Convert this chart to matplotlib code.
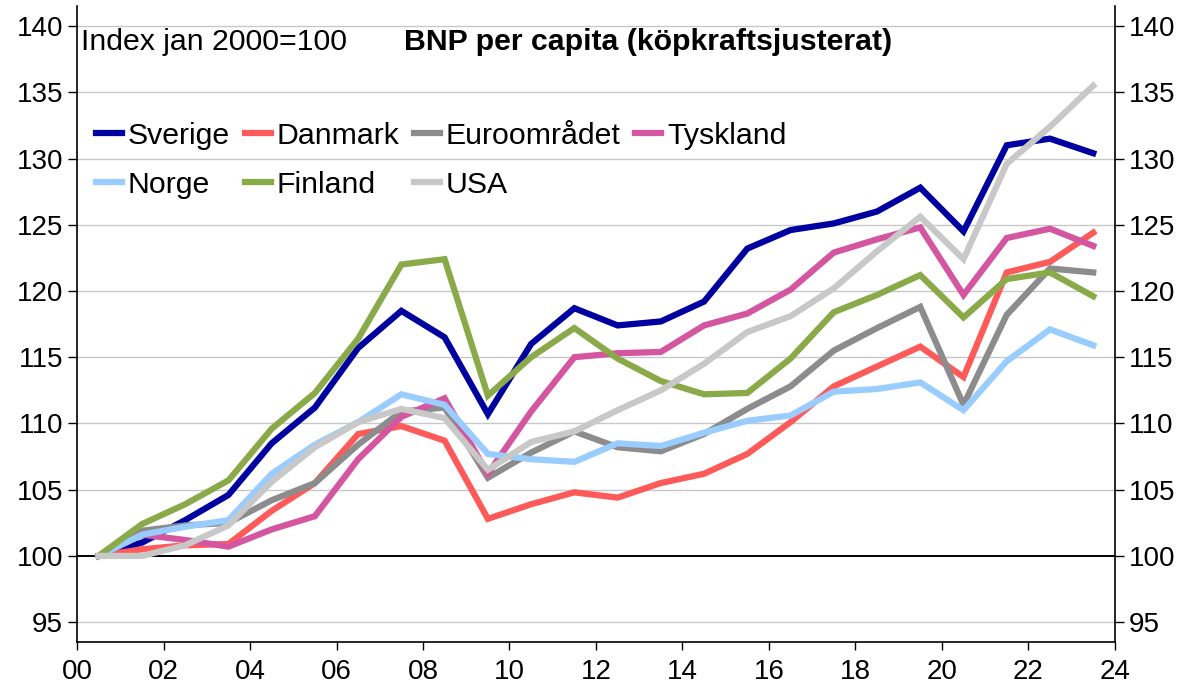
#!/usr/bin/env python3
#
# BNP per capita (köpkraftsjusterat), index jan 2000=100
#

import matplotlib
matplotlib.use('Agg')
import matplotlib.pyplot as plt
import numpy as np

plt.rcParams['font.family'] = ['Liberation Sans', 'DejaVu Sans']

# mid-year observations 2000..2023
years = np.arange(24) + 0.5

sverige = [100, 101.0, 102.7, 104.6, 108.5, 111.2, 115.7, 118.5, 116.5, 110.7, 116.0, 118.7,
           117.4, 117.7, 119.2, 123.2, 124.6, 125.1, 126.0, 127.8, 124.5, 131.0, 131.5, 130.4]
danmark = [100, 100.5, 100.8, 100.9, 103.4, 105.5, 109.2, 109.8, 108.7, 102.8, 103.9, 104.8,
           104.4, 105.5, 106.2, 107.7, 110.1, 112.8, 114.3, 115.8, 113.5, 121.4, 122.2, 124.4]
euro = [100, 101.9, 102.3, 102.5, 104.2, 105.5, 108.4, 110.9, 111.2, 105.9, 107.8, 109.4,
        108.2, 107.9, 109.2, 111.1, 112.8, 115.5, 117.2, 118.8, 111.4, 118.2, 121.7, 121.4]
tyskland = [100, 101.6, 101.2, 100.7, 102.0, 103.0, 107.3, 110.5, 111.9, 106.2, 110.9, 115.0,
            115.3, 115.4, 117.4, 118.3, 120.1, 122.9, 123.9, 124.8, 119.7, 124.0, 124.7, 123.4]
norge = [100, 101.6, 102.2, 102.7, 106.2, 108.4, 110.1, 112.2, 111.4, 107.7, 107.3, 107.1,
         108.5, 108.3, 109.3, 110.2, 110.6, 112.4, 112.6, 113.1, 111.0, 114.7, 117.1, 115.9]
finland = [100, 102.4, 103.9, 105.7, 109.6, 112.3, 116.4, 122.0, 122.4, 112.1, 115.0, 117.2,
           114.9, 113.2, 112.2, 112.3, 114.9, 118.4, 119.7, 121.2, 118.0, 120.9, 121.4, 119.6]
usa = [100, 100.0, 100.8, 102.3, 105.6, 108.2, 110.1, 111.1, 110.4, 106.5, 108.6, 109.4,
       111.0, 112.5, 114.5, 116.9, 118.1, 120.2, 123.0, 125.6, 122.4, 129.6, 132.4, 135.5]

series = [
    ('Sverige', sverige, '#0000A0'),
    ('Danmark', danmark, '#FF5A5A'),
    ('Euroområdet', euro, '#8C8C8C'),
    ('Tyskland', tyskland, '#D455A0'),
    ('Norge', norge, '#99CCFF'),
    ('Finland', finland, '#8AAA4A'),
    ('USA', usa, '#C8C8C8'),
]

x_ticks = np.arange(0, 25, 2)
x_labels = ['%02d' % t for t in x_ticks]
y_ticks = np.arange(95, 141, 5)

fig = plt.figure(figsize=(11.86, 6.87), dpi=100)
ax = fig.add_axes([0.065, 0.0655, 0.875, 0.9255])

for y in y_ticks:
    if y == 100:
        ax.axhline(y, color='black', lw=1.4, zorder=1)
    else:
        ax.axhline(y, color='#C8C8C8', lw=1.0, zorder=0)

lines = {}
for name, vals, col in series:
    lines[name], = ax.plot(years, vals, color=col, lw=4.5, label=name,
                           solid_joinstyle='miter', zorder=2)

ax.set_xlim(0, 24)
ax.set_ylim(93.5, 141.5)
ax.set_xticks(x_ticks)
ax.set_xticklabels(x_labels)
ax.set_yticks(y_ticks)
ax.tick_params(axis='y', which='both', left=True, right=True, labelleft=True,
               labelright=True, direction='out', length=6.5, width=1, labelsize=20, pad=3.5)
ax.tick_params(axis='x', direction='out', length=6, width=1, labelsize=20, pad=6)
ax.spines['top'].set_visible(False)
for s in ['left', 'right', 'bottom']:
    ax.spines[s].set_linewidth(1.2)

ax.text(0.004, 0.944, 'Index jan 2000=100', transform=ax.transAxes, fontsize=21.8,
        va='center', ha='left')
ax.text(0.5505, 0.944, 'BNP per capita (köpkraftsjusterat)', transform=ax.transAxes,
        fontsize=21.8, fontweight='bold', va='center', ha='center')

# row-wise legend order for 4 columns
order = ['Sverige', 'Norge', 'Danmark', 'Finland', 'Euroområdet', 'USA', 'Tyskland']
leg = ax.legend([lines[n] for n in order], order, ncol=4, loc='upper left',
                bbox_to_anchor=(0.018, 0.818), frameon=False, fontsize=21.8,
                handlelength=0.86, handletextpad=0.18, columnspacing=0.5,
                labelspacing=0.7, borderaxespad=0, borderpad=0)

plt.savefig('out.png', dpi=100)
